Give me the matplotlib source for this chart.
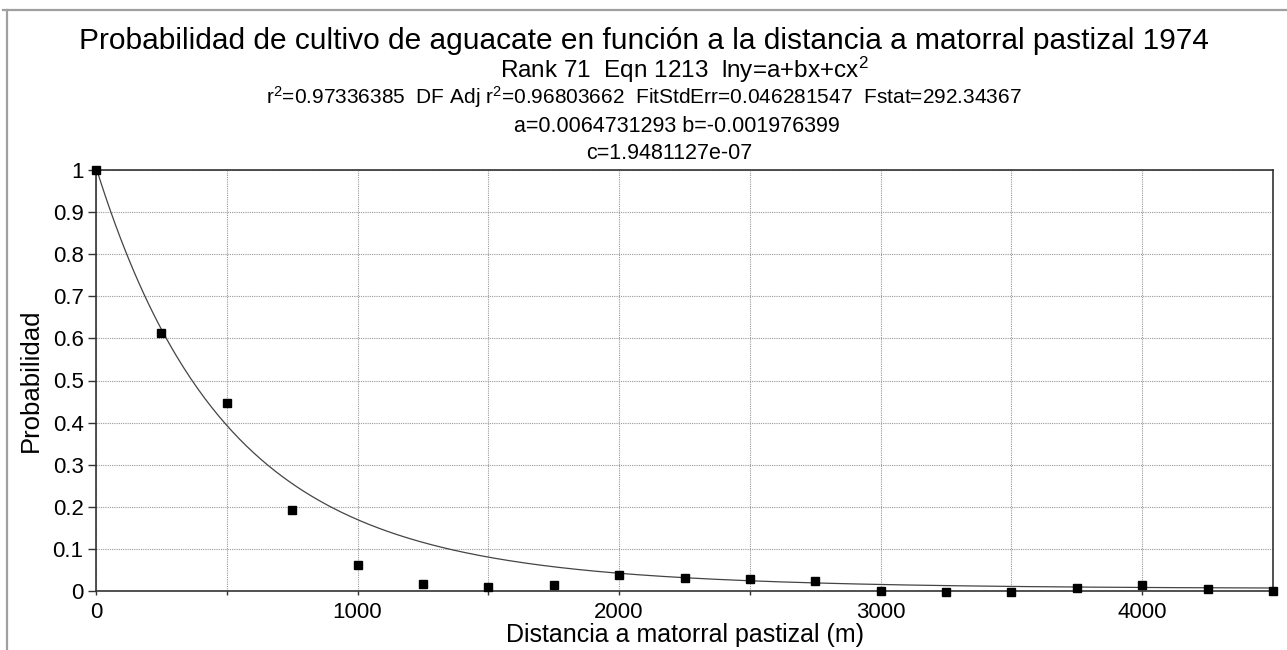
import numpy as np
import matplotlib
matplotlib.use("Agg")
import matplotlib.pyplot as plt
from matplotlib.lines import Line2D

plt.rcParams['font.family'] = ['Liberation Sans', 'DejaVu Sans']
plt.rcParams['mathtext.fontset'] = 'custom'
plt.rcParams['mathtext.rm'] = 'Liberation Sans'
plt.rcParams['mathtext.it'] = 'Liberation Sans'
plt.rcParams['mathtext.default'] = 'regular'

# Data
distance = [0, 250, 500, 750, 1000, 1250, 1500, 1750, 2000, 2250, 2500,
            2750, 3000, 3250, 3500, 3750, 4000, 4250, 4500]
probability = [1.0, 0.614, 0.446, 0.192, 0.061, 0.016, 0.010, 0.014, 0.039,
               0.031, 0.029, 0.024, 0.0, -0.002, -0.002, 0.008, 0.014, 0.005, -0.001]
# Fit parameters (lny = a + bx + cx^2)
coef_a = 0.0064731293
coef_b = -0.001976399
coef_c = 1.9481127e-07

title = "Probabilidad de cultivo de aguacate en función a la distancia a matorral pastizal 1974"
sub1 = r"Rank 71  Eqn 1213  lny=a+bx+cx$^{2}$"
sub2 = r"r$^{2}$=0.97336385  DF Adj r$^{2}$=0.96803662  FitStdErr=0.046281547  Fstat=292.34367"
sub3 = "a=0.0064731293 b=-0.001976399"
sub4 = "c=1.9481127e-07"
xtick_values = [0, 500, 1000, 1500, 2000, 2500, 3000, 3500, 4000, 4500]
xtick_labels = ["0", "", "1000", "", "2000", "", "3000", "", "4000", ""]
yticks = [0, 0.1, 0.2, 0.3, 0.4, 0.5, 0.6, 0.7, 0.8, 0.9, 1]
ytick_labels = ["0", "0.1", "0.2", "0.3", "0.4", "0.5", "0.6", "0.7", "0.8", "0.9", "1"]

W, H = 1287, 650
fig = plt.figure(figsize=(W / 100, H / 100), dpi=100)
ax = fig.add_axes([96 / W, 1 - 591 / H, (1273 - 96) / W, (591 - 170) / H])

ax.set_xlim(0, 4500)
ax.set_ylim(0, 1)
ax.set_xticks(xtick_values)
ax.set_xticklabels(xtick_labels)
ax.set_yticks(yticks)
ax.set_yticklabels(ytick_labels)
ax.grid(True, color='#999999', linestyle=(0, (1, 1)), linewidth=0.8)
ax.tick_params(axis='x', direction='out', length=3, width=1, colors='#333333',
               labelsize=16, labelcolor='black', pad=5)
ax.tick_params(axis='y', direction='out', length=6, width=1, colors='#333333',
               labelsize=16, labelcolor='black', pad=3)
for s in ax.spines.values():
    s.set_color('#333333')
    s.set_linewidth(1.2)

xs = np.linspace(0, 4500, 500)
ys = np.exp(coef_a + coef_b * xs + coef_c * xs**2)
ax.plot(xs, ys, color='#444444', linewidth=0.9, zorder=3)
ax.plot(distance, probability, linestyle='none', marker='s', markersize=5.8,
        color='black', clip_on=False, zorder=4)

ax.set_xlabel("Distancia a matorral pastizal (m)", fontsize=18, labelpad=0)
ax.set_ylabel("Probabilidad", fontsize=18.5, labelpad=7)

fig.text(0.5, 1 - 49 / H, title, ha='center', va='baseline', fontsize=21.5)
fig.text(0.532, 1 - 78 / H, sub1, ha='center', va='baseline', fontsize=17.5)
fig.text(0.5, 1 - 104 / H, sub2, ha='center', va='baseline', fontsize=15)
fig.text(0.526, 1 - 131.5 / H, sub3, ha='center', va='baseline', fontsize=15.5)
fig.text(0.52, 1 - 159 / H, sub4, ha='center', va='baseline', fontsize=15.5)

fig.add_artist(Line2D([7 / W, 7 / W], [0, 1 - 10 / H], transform=fig.transFigure,
                      color='#a0a0a0', linewidth=1.6))
fig.add_artist(Line2D([3 / W, 1], [1 - 10 / H, 1 - 10 / H], transform=fig.transFigure,
                      color='#a0a0a0', linewidth=1.6))

fig.savefig("out.png", dpi=100)
